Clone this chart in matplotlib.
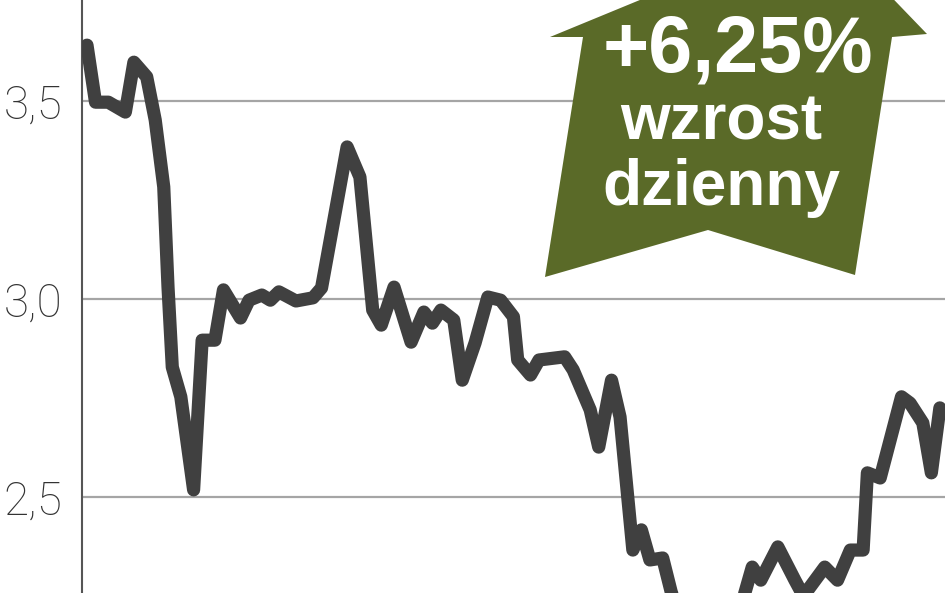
import matplotlib
matplotlib.use("Agg")
import matplotlib.pyplot as plt
from matplotlib.patches import Polygon

# ---- data ----
days = [0, 2, 5, 9, 11, 14, 16, 18, 19, 20, 22, 25, 27, 30, 32, 36, 38, 41, 43, 45,
        49, 53, 55, 61, 64, 67, 69, 72, 76, 79, 81, 83, 86, 88, 91, 94, 97, 100, 101,
        104, 106, 112, 114, 118, 120, 123, 125, 128, 130, 132, 135, 137, 139, 143,
        146, 150, 153, 156, 158, 162, 166, 168, 173, 176, 179, 182, 183, 186, 191,
        193, 196, 198, 200]
prices = [3.641, 3.497, 3.497, 3.472, 3.598, 3.561, 3.452, 3.283, 3.030, 2.828, 2.753,
          2.518, 2.896, 2.896, 3.023, 2.952, 2.997, 3.010, 2.997, 3.018, 2.995, 3.003,
          3.028, 3.384, 3.308, 2.972, 2.934, 3.030, 2.891, 2.967, 2.939, 2.972, 2.947,
          2.795, 2.889, 3.005, 2.997, 2.955, 2.846, 2.808, 2.846, 2.854, 2.821, 2.720,
          2.626, 2.795, 2.702, 2.366, 2.417, 2.341, 2.346, 2.260, 2.200, 2.170, 2.190,
          2.160, 2.210, 2.323, 2.290, 2.374, 2.290, 2.250, 2.323, 2.290, 2.366, 2.366,
          2.561, 2.548, 2.753, 2.737, 2.687, 2.561, 2.725]
y_ticks = [2.5, 3.0, 3.5]
y_tick_labels = ["2,5", "3,0", "3,5"]
badge_lines = ["+6,25%", "wzrost", "dzienny"]

W, H = 948, 593
fig = plt.figure(figsize=(W / 100, H / 100), dpi=100)
ax = fig.add_axes([82 / W, 0, (945 - 82) / W, 1])

ax.plot(days, prices, color="#404040", lw=9.5, solid_capstyle="round",
        solid_joinstyle="round", zorder=3)

ax.set_xlim(-1.17, 201.2)
ax.set_ylim(2.5 - (593 - 497) / 396, 3.5 + 101 / 396)

ax.set_yticks(y_ticks)
ax.set_yticklabels(y_tick_labels, family=["Roboto", "DejaVu Sans"],
                   fontweight="light", fontsize=33, color="#333333")
ax.tick_params(axis="y", length=0, pad=14)
ax.set_xticks([])
ax.yaxis.grid(True, color="#a5a5a5", lw=1.6)
ax.set_axisbelow(True)
for s in ["top", "right", "bottom"]:
    ax.spines[s].set_visible(False)
ax.spines["left"].set_color("#555555")
ax.spines["left"].set_linewidth(1.5)

# ---- badge arrow (figure pixel geometry) ----
pts_px = [(550, 37), (583, 37), (545, 277), (708, 230), (855, 275),
          (892, 37), (927, 34), (822, -75)]
pts = [(x / W, 1 - y / H) for x, y in pts_px]
fig.patches.append(Polygon(pts, closed=True, transform=fig.transFigure,
                           facecolor="#5a6a28", edgecolor="none", zorder=5))

fam = ["Liberation Sans", "DejaVu Sans"]
fig.text(738 / W, 1 - 72 / H, badge_lines[0], ha="center", va="baseline",
         color="white", fontsize=57, fontweight="bold", family=fam, zorder=6)
fig.text(721 / W, 1 - 140 / H, badge_lines[1], ha="center", va="baseline",
         color="white", fontsize=46, fontweight="bold", family=fam, zorder=6)
fig.text(721 / W, 1 - 205 / H, badge_lines[2], ha="center", va="baseline",
         color="white", fontsize=46, fontweight="bold", family=fam, zorder=6)

fig.savefig("out.png", dpi=100)
